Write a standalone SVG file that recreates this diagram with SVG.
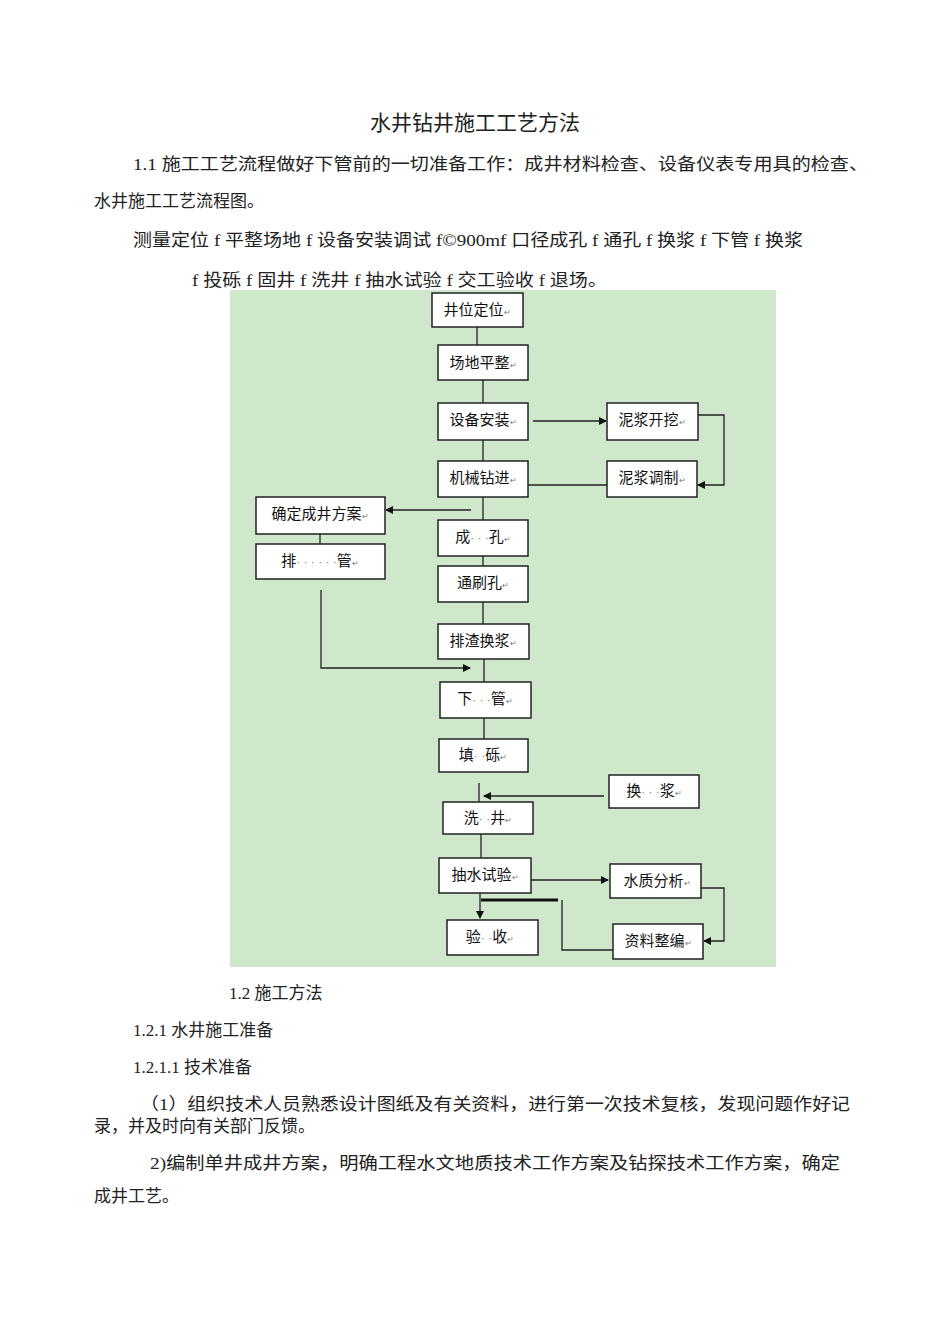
<svg xmlns="http://www.w3.org/2000/svg" width="950" height="1344" viewBox="0 0 950 1344">
<style>
.t{font-family:"Liberation Serif","Noto Sans CJK SC",serif;font-size:17px;fill:#222}
.b{fill:#fff;stroke:#222;stroke-width:1.5}
.l{font-family:"Noto Sans CJK SC",sans-serif;font-size:15px;fill:#111;text-anchor:middle}
.m{font-size:8px;fill:#777}
.d{font-family:"Liberation Sans",sans-serif;font-size:12px;fill:#888}
.c{stroke:#222;stroke-width:1.3;fill:none}
</style>
<defs><marker id="a" markerWidth="8" markerHeight="8" refX="7" refY="4" orient="auto" markerUnits="userSpaceOnUse"><path d="M0,0L8,4L0,8z" fill="#111"/></marker></defs>
<rect width="950" height="1344" fill="#fff"/>
<text x="475" y="130" text-anchor="middle" style="font-family:'Liberation Serif','Noto Sans CJK SC',serif;font-size:21px;fill:#222">水井钻井施工工艺方法</text>
<text class="t" x="133" y="170" textLength="735" lengthAdjust="spacingAndGlyphs">1.1 施工工艺流程做好下管前的一切准备工作：成井材料检查、设备仪表专用具的检查、</text>
<text class="t" x="94" y="207">水井施工工艺流程图。</text>
<text class="t" x="133" y="246" textLength="670" lengthAdjust="spacingAndGlyphs">测量定位 f 平整场地 f 设备安装调试 f©900mf 口径成孔 f 通孔 f 换浆 f 下管 f 换浆</text>
<text class="t" x="192" y="286" textLength="415" lengthAdjust="spacingAndGlyphs">f 投砾 f 固井 f 洗井 f 抽水试验 f 交工验收 f 退场。</text>
<rect x="230" y="290" width="546" height="677" fill="#cfe8cc"/>
<g id="connectors">
<path class="c" d="M477,327V345M483,380V403M483,440V461M483,497V520M483,556V566M483,602V624M484,659V682M484,718V739M479,783V802M481,834V858"/>
<path class="c" d="M533,421H606" marker-end="url(#a)"/>
<path class="c" d="M698,415H724V485H698" marker-end="url(#a)"/>
<path class="c" d="M528,485H607"/>
<path class="c" d="M471,510H386" marker-end="url(#a)"/>
<path class="c" d="M320,534V544"/>
<path class="c" d="M321,590V668H470" marker-end="url(#a)"/>
<path class="c" d="M604,796H484" marker-end="url(#a)"/>
<path class="c" d="M530,880H608" marker-end="url(#a)"/>
<path class="c" d="M701,888H724V941H704" marker-end="url(#a)"/>
<path class="c" d="M613,950H562V900"/>
<path d="M558,900H481" stroke="#111" stroke-width="3"/>
<path class="c" d="M480,893V918" marker-end="url(#a)"/>
</g>
<g id="n1"><rect class="b" x="432" y="293" width="91" height="34"/><text class="l" x="477" y="315">井位定位<tspan class="m">↵</tspan></text></g>
<g id="n2"><rect class="b" x="438" y="345" width="90" height="35"/><text class="l" x="483" y="368">场地平整<tspan class="m">↵</tspan></text></g>
<g id="n3"><rect class="b" x="438" y="403" width="90" height="37"/><text class="l" x="483" y="425">设备安装<tspan class="m">↵</tspan></text></g>
<g id="n4"><rect class="b" x="607" y="403" width="91" height="37"/><text class="l" x="652" y="425">泥浆开挖<tspan class="m">↵</tspan></text></g>
<g id="n5"><rect class="b" x="438" y="461" width="90" height="36"/><text class="l" x="483" y="483">机械钻进<tspan class="m">↵</tspan></text></g>
<g id="n6"><rect class="b" x="607" y="461" width="90" height="36"/><text class="l" x="652" y="483">泥浆调制<tspan class="m">↵</tspan></text></g>
<g id="n7"><rect class="b" x="256" y="497" width="129" height="37"/><text class="l" x="320" y="519">确定成井方案<tspan class="m">↵</tspan></text></g>
<g id="n8"><rect class="b" x="438" y="520" width="90" height="36"/><text class="l" x="483" y="542">成<tspan class="d">· · ·</tspan>孔<tspan class="m">↵</tspan></text></g>
<g id="n9"><rect class="b" x="256" y="544" width="129" height="35"/><text class="l" x="320" y="566">排<tspan class="d">· · · · · ·</tspan>管<tspan class="m">↵</tspan></text></g>
<g id="n10"><rect class="b" x="438" y="566" width="90" height="36"/><text class="l" x="483" y="588">通刷孔<tspan class="m">↵</tspan></text></g>
<g id="n11"><rect class="b" x="438" y="624" width="91" height="35"/><text class="l" x="483" y="646">排渣换浆<tspan class="m">↵</tspan></text></g>
<g id="n12"><rect class="b" x="440" y="682" width="91" height="36" stroke-width="2.5"/><text class="l" x="485" y="704">下<tspan class="d">· · ·</tspan>管<tspan class="m">↵</tspan></text></g>
<g id="n13"><rect class="b" x="439" y="739" width="89" height="33"/><text class="l" x="483" y="760">填<tspan class="d">· ·</tspan>砾<tspan class="m">↵</tspan></text></g>
<g id="n14"><rect class="b" x="609" y="775" width="90" height="33"/><text class="l" x="654" y="796">换<tspan class="d">· · ·</tspan>浆<tspan class="m">↵</tspan></text></g>
<g id="n15"><rect class="b" x="443" y="802" width="90" height="32"/><text class="l" x="488" y="823">洗<tspan class="d">· ·</tspan>井<tspan class="m">↵</tspan></text></g>
<g id="n16"><rect class="b" x="439" y="858" width="92" height="35"/><text class="l" x="485" y="880">抽水试验<tspan class="m">↵</tspan></text></g>
<g id="n17"><rect class="b" x="610" y="864" width="91" height="34"/><text class="l" x="657" y="886">水质分析<tspan class="m">↵</tspan></text></g>
<g id="n18"><rect class="b" x="447" y="920" width="91" height="35"/><text class="l" x="490" y="942">验<tspan class="d">· ·</tspan>收<tspan class="m">↵</tspan></text></g>
<g id="n19"><rect class="b" x="613" y="924" width="90" height="35"/><text class="l" x="658" y="946">资料整编<tspan class="m">↵</tspan></text></g>
<text class="t" x="229" y="999">1.2 施工方法</text>
<text class="t" x="133" y="1036">1.2.1 水井施工准备</text>
<text class="t" x="133" y="1073">1.2.1.1 技术准备</text>
<text class="t" x="140" y="1110" textLength="710" lengthAdjust="spacingAndGlyphs">（1）组织技术人员熟悉设计图纸及有关资料，进行第一次技术复核，发现问题作好记</text>
<text class="t" x="94" y="1132">录，并及时向有关部门反馈。</text>
<text class="t" x="150" y="1169" textLength="690" lengthAdjust="spacingAndGlyphs">2)编制单井成井方案，明确工程水文地质技术工作方案及钻探技术工作方案，确定</text>
<text class="t" x="94" y="1202">成井工艺。</text>
</svg>
